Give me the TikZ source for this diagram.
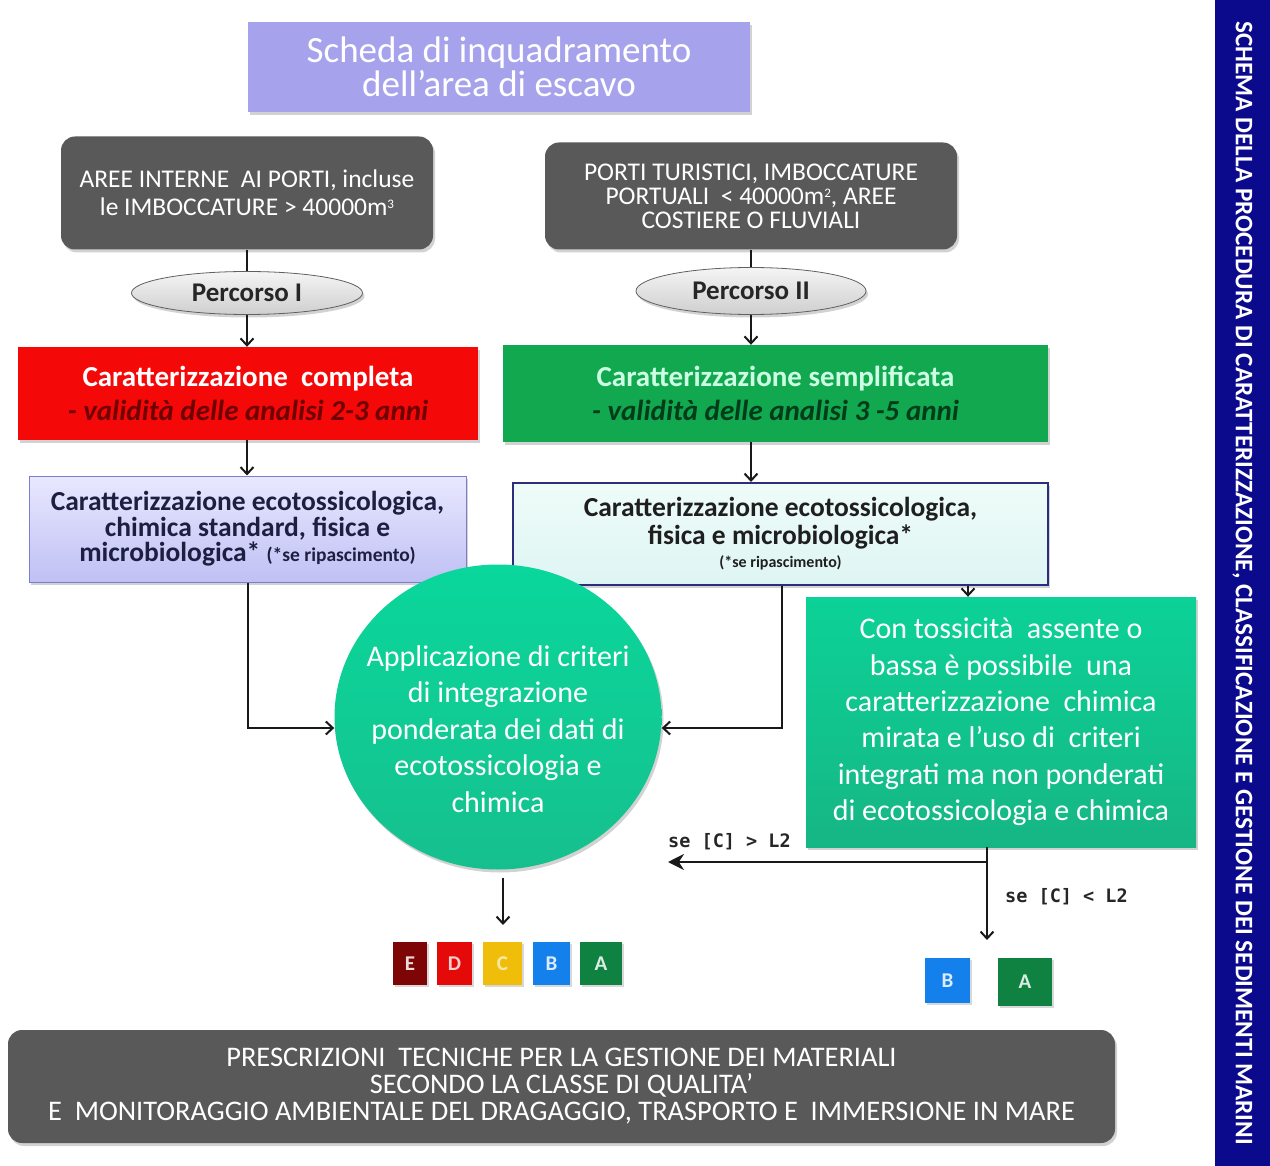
\documentclass[tikz,border=0pt]{standalone}
\usepackage{fontspec}
\setmainfont{Carlito}
\newfontfamily\lblfont{DejaVu Sans Mono}
\usetikzlibrary{arrows.meta,shadows,shapes.geometric}
\newcommand\fsz[2]{\fontsize{#1}{#2}\selectfont}
\newcommand\supsm[1]{\raisebox{7pt}{\fsz{13}{13}#1}}
\definecolor{titlefill}{RGB}{166,162,236}
\definecolor{grayfill}{RGB}{89,89,89}
\definecolor{redfill}{RGB}{245,8,8}
\definecolor{darkredtxt}{RGB}{110,0,0}
\definecolor{greenfill}{RGB}{18,168,80}
\definecolor{minttxt}{RGB}{205,255,228}
\definecolor{darkgreentxt}{RGB}{0,60,25}
\definecolor{lavtop}{RGB}{232,232,255}
\definecolor{lavbot}{RGB}{192,192,245}
\definecolor{lavborder}{RGB}{125,125,205}
\definecolor{lavtxt}{RGB}{30,30,65}
\definecolor{lighttop}{RGB}{238,252,248}
\definecolor{lightbot}{RGB}{222,245,244}
\definecolor{lightborder}{RGB}{45,45,125}
\definecolor{circfill}{RGB}{22,192,142}
\definecolor{circtop}{RGB}{10,215,155}
\definecolor{toxfill}{RGB}{22,182,132}
\definecolor{sidefill}{RGB}{12,10,140}
\definecolor{gradeE}{RGB}{125,5,5}
\definecolor{gradeD}{RGB}{228,10,10}
\definecolor{gradeC}{RGB}{240,190,10}
\definecolor{gradeB}{RGB}{20,128,235}
\definecolor{gradeA}{RGB}{15,130,65}
\begin{document}
\begin{tikzpicture}[x=1pt,y=-1pt,
  shadowed/.style={drop shadow={opacity=0.35,shadow xshift=2pt,shadow yshift=-3pt}},
  basebox/.style={rectangle,inner sep=0pt,align=center,shadowed},
  titlebox/.style={basebox,fill=titlefill,text=white},
  graybox/.style={basebox,rounded corners=14pt,fill=grayfill,text=white},
  pellipse/.style={ellipse,inner sep=0pt,draw=gray!75!black,line width=0.8pt,top color=gray!8,bottom color=gray!38,shadowed,font=\fsz{27}{30}\bfseries,text=black!85},
  redbox/.style={basebox,fill=redfill},
  greenbox/.style={basebox,fill=greenfill},
  lavbox/.style={basebox,top color=lavtop,bottom color=lavbot,draw=lavborder,line width=1pt,text=lavtxt},
  lightbox/.style={basebox,top color=lighttop,bottom color=lightbot,draw=lightborder,line width=2pt,text=black!88},
  circbox/.style={ellipse,inner sep=0pt,top color=circtop,bottom color=circfill,shadowed},
  toxbox/.style={basebox,top color=circtop!85!toxfill,bottom color=toxfill,text=white},
  grade/.style={rectangle,inner sep=0pt,minimum height=43pt,font=\fsz{21}{21}\bfseries,drop shadow={opacity=0.3,shadow xshift=1.5pt,shadow yshift=-2pt}},
  lbl/.style={font=\lblfont\bfseries\fsz{18.5}{18.5},text=black!85},
  conn/.style={line width=2pt,draw=black!90},
  arr/.style={conn,-{Straight Barb[length=7pt,width=13pt,line width=2pt]}},
  arrS/.style={conn,-{Stealth[length=16pt,width=16pt]}}
]
\useasboundingbox (0,0) rectangle (1270,1166);
\fill[white] (0,0) rectangle (1270,1166);

% title
\node[titlebox,minimum width=502pt,minimum height=90pt,font=\fsz{37}{34}] (title) at (499,67)
  {Scheda di inquadramento\\dell’area di escavo};

% gray area boxes
\node[graybox,minimum width=372pt,minimum height=113pt,font=\fsz{25.5}{28}] (lg) at (247,193)
  {AREE INTERNE\ \ AI PORTI, incluse\\le IMBOCCATURE > 40000m\supsm{3}};
\node[graybox,minimum width=412pt,minimum height=107pt,font=\fsz{25.5}{24}] (rg) at (751,196)
  {PORTI TURISTICI, IMBOCCATURE\\PORTUALI\ \ < 40000m\supsm{2}, AREE\\COSTIERE O FLUVIALI};

% percorso ellipses
\node[pellipse,minimum width=231pt,minimum height=43pt] (p1) at (247,293) {Percorso I};
\node[pellipse,minimum width=230pt,minimum height=47pt] (p2) at (751,291) {Percorso II};

% characterisation boxes
\node[redbox,minimum width=460pt,minimum height=93pt,font=\fsz{29}{34}\bfseries,text=white] (red) at (248,393.5)
  {Caratterizzazione\ \ completa\\
   \textcolor{darkredtxt}{\itshape - validità delle analisi 2-3 anni}};
\node[greenbox,minimum width=545pt,minimum height=97pt,font=\fsz{29}{34}\bfseries,text=minttxt] (green) at (775.5,393.5)
  {Caratterizzazione semplificata\\
   \textcolor{darkgreentxt}{\itshape - validità delle analisi 3 -5 anni}};

\node[lavbox,minimum width=437pt,minimum height=106pt,font=\fsz{27.5}{25.5}\bfseries] (lav) at (247.5,529)
  {Caratterizzazione ecotossicologica,\\chimica standard, fisica e\\microbiologica* {\fsz{19.5}{19.5}(*se ripascimento)}};
\node[lightbox,minimum width=535pt,minimum height=102pt,font=\fsz{27.5}{28}\bfseries] (light) at (780.5,534)
  {Caratterizzazione ecotossicologica,\\fisica e microbiologica*\\[-5pt]{\fsz{16}{16}(*se ripascimento)}};

% integration circle
\node[circbox,minimum width=327pt,minimum height=305pt] (circ) at (498,717) {};
\node[align=center,text=white,inner sep=0pt,font=\fsz{30}{36.5}] (circtxt) at (498,729)
  {Applicazione di criteri\\di integrazione\\ponderata dei dati di\\ecotossicologia e\\chimica};

% low toxicity box
\node[toxbox,minimum width=390pt,minimum height=250pt,font=\fsz{30}{36.3}] (tox) at (1001,722)
  {Con tossicità\ \ assente o\\bassa è possibile\ \ una\\caratterizzazione\ \ chimica\\mirata e l’uso di\ \ criteri\\integrati ma non ponderati\\di ecotossicologia e chimica};

% grades
\node[grade,minimum width=34pt,fill=gradeE,text=white!85!gradeE] (gE) at (410,963.5) {E};
\node[grade,minimum width=35pt,fill=gradeD,text=white!80!gradeD] (gD) at (454.5,963.5) {D};
\node[grade,minimum width=39pt,fill=gradeC,text=white!65!gradeC] (gC) at (502.5,963.5) {C};
\node[grade,minimum width=37pt,fill=gradeB,text=white!85!gradeB] (gB) at (551.5,963.5) {B};
\node[grade,minimum width=42pt,fill=gradeA,text=white!85!gradeA] (gA) at (601,963.5) {A};
\node[grade,minimum width=45pt,minimum height=45pt,fill=gradeB,text=white!85!gradeB] (hB) at (947.5,980.5) {B};
\node[grade,minimum width=54pt,minimum height=48pt,fill=gradeA,text=white!85!gradeA] (hA) at (1025,982) {A};

% bottom box
\node[graybox,minimum width=1107pt,minimum height=113pt,font=\fsz{28.4}{27}] (bottom) at (561.5,1086.5)
  {PRESCRIZIONI\ \ TECNICHE PER LA GESTIONE DEI MATERIALI\\SECONDO LA CLASSE DI QUALITA’\\E\ \ MONITORAGGIO AMBIENTALE DEL DRAGAGGIO, TRASPORTO E\ \ IMMERSIONE IN MARE};

% side banner
\node[rectangle,fill=sidefill,inner sep=0pt,minimum width=1166pt,minimum height=55pt,rotate=-90,text=white,font=\fsz{25.2}{26}\bfseries] (side) at (1242.5,583)
  {SCHEMA DELLA PROCEDURA DI CARATTERIZZAZIONE, CLASSIFICAZIONE E GESTIONE DEI SEDIMENTI MARINI};

% connectors
\draw[conn] (lg.south) -- (p1.north);
\draw[arr] (p1.south) -- (p1.south |- red.north);
\draw[arr] (p1.south |- red.south) -- (p1.south |- lav.north);
\draw[conn] (rg.south) -- (p2.north);
\draw[arr] (p2.south) -- (p2.south |- green.north);
\draw[arr] (p2.south |- green.south) -- (p2.south |- light.north);
\draw[arr] (lav.south) |- ([yshift=-11pt]circ.west);
\draw[arr] ([xshift=1.5pt]light.south) |- ([yshift=-11pt]circ.east);
\coordinate (tx) at ([xshift=-33pt]tox.north);
\draw[arr] (light.south -| tx) -- (tx);
\coordinate (sp) at (987,862);
\coordinate (gt) at (668,862);
\coordinate (lt) at (987,940);
\draw[conn] (tox.south -| sp) -- (sp);
\draw[arrS] (sp) -- (gt);
\draw[arr] (sp) -- (lt);
\coordinate (cdown) at (503,925);
\draw[arr] ([shift={(5pt,-8pt)}]circ.south) -- (cdown);

% condition labels
\node[lbl,anchor=south west,inner sep=0pt] (gtl) at (668,850) {se [C] > L2};
\node[lbl,anchor=west,inner sep=0pt] (ltl) at (1005,897) {se [C] < L2};
\end{tikzpicture}
\end{document}
